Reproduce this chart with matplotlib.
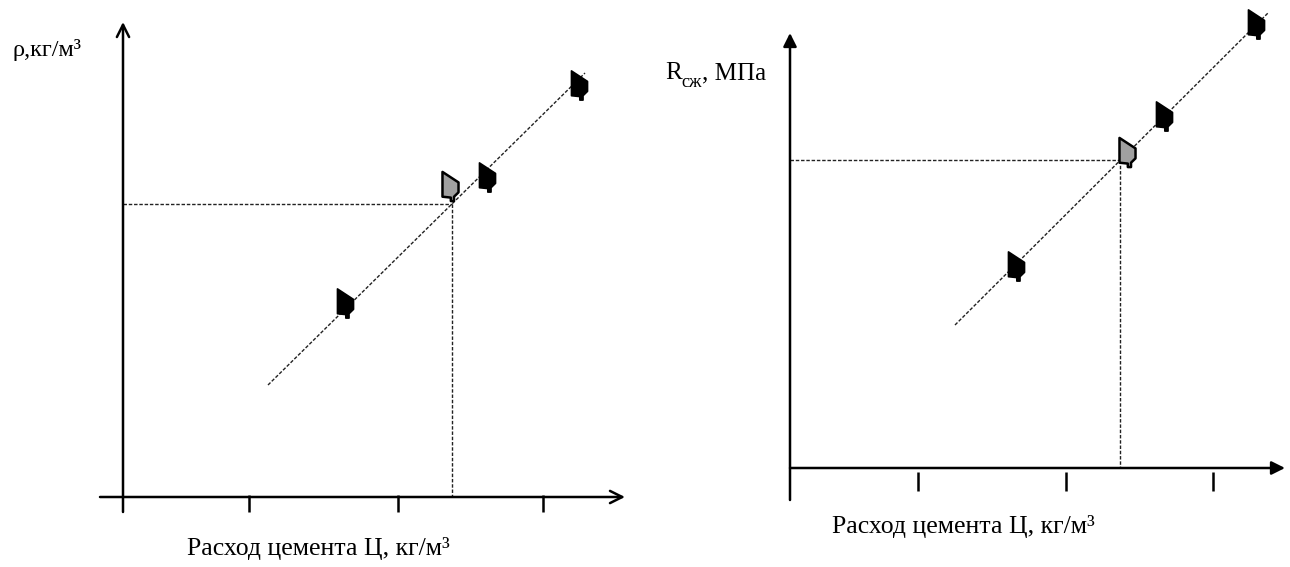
import numpy as np
import matplotlib.pyplot as plt
from matplotlib.path import Path

plt.rcParams['font.family'] = ['Liberation Serif', 'DejaVu Serif']

# left panel: density vs cement consumption (schematic units)
rho_ticks = [0.0, 1.26, 2.75, 4.20]
rho_cement = [2.22, 3.64, 4.56]
rho_value = [1.94, 3.20, 4.12]
rho_trial_cement = [3.27]
rho_trial_value = [3.11]
rho_trend_x = [1.45, 4.62]
rho_trend_y = [1.12, 4.24]
rho_ref = (3.29, 2.93)

# right panel: compressive strength vs cement consumption
r_ticks = [1.28, 2.76, 4.23]
r_cement = [2.26, 3.74, 4.66]
r_value = [2.02, 3.52, 4.44]
r_trial_cement = [3.37]
r_trial_value = [3.16]
r_trend_x = [1.65, 4.78]
r_trend_y = [1.43, 4.55]
r_ref = (3.30, 3.08)

x_label = 'Расход цемента Ц, кг/м³'

# flag-like point marker
flag_verts = np.array([
    (0.0, 1.0), (1.0, 0.64), (1.0, 0.30), (0.72, 0.15), (0.72, 0.0),
    (0.52, 0.0), (0.52, 0.12), (0.0, 0.15), (0.0, 1.0)])
flag_verts = (flag_verts - 0.5) * [0.55, 1.0]
flag = Path(flag_verts, closed=True)


def draw_points(ax, xs, ys, tx, ty):
    ax.plot(xs, ys, ls='none', marker=flag, ms=21, mfc='black', mec='black', mew=1.2)
    ax.plot(tx, ty, ls='none', marker=flag, ms=21, mfc='#a0a0a0', mec='black', mew=1.8)


def draw_trend(ax, tx, ty, ref, x0, y0):
    style = dict(color='#222222', lw=1.0, ls=(0, (2.5, 1.3)))
    ax.plot(tx, ty, **style)
    ax.plot([x0, ref[0]], [ref[1], ref[1]], **style)
    ax.plot([ref[0], ref[0]], [ref[1], y0], **style)


fig = plt.figure(figsize=(12.9, 5.67), dpi=100)

# left panel
ax1 = fig.add_axes([0, 0, 0.5, 1])
ax1.set_xlim(-1.23, 5.22)
ax1.set_ylim(-0.70, 4.97)
ax1.axis('off')
ax1.annotate('', xy=(5.02, 0), xytext=(-0.23, 0),
             arrowprops=dict(arrowstyle='->', lw=1.8, mutation_scale=22, shrinkA=0, shrinkB=0))
ax1.annotate('', xy=(0, 4.75), xytext=(0, -0.15),
             arrowprops=dict(arrowstyle='->', lw=1.8, mutation_scale=22, shrinkA=0, shrinkB=0))
ax1.vlines(rho_ticks[1:], -0.15, 0.02, color='black', lw=1.8)
draw_trend(ax1, rho_trend_x, rho_trend_y, rho_ref, 0, 0)
draw_points(ax1, rho_cement, rho_value, rho_trial_cement, rho_trial_value)
ax1.text(-1.11, 4.47, 'ρ,кг/м³', fontsize=17.5, ha='left', va='center')
ax1.text(1.95, -0.51, x_label, fontsize=18.5, ha='center', va='center')

# right panel
ax2 = fig.add_axes([0.5, 0, 0.5, 1])
ax2.set_xlim(-1.45, 5.00)
ax2.set_ylim(-0.99, 4.68)
ax2.axis('off')
ax2.annotate('', xy=(4.95, 0), xytext=(0, 0),
             arrowprops=dict(arrowstyle='-|>', lw=1.8, mutation_scale=20, color='black',
                             shrinkA=0, shrinkB=0))
ax2.annotate('', xy=(0, 4.35), xytext=(0, -0.32),
             arrowprops=dict(arrowstyle='-|>', lw=1.8, mutation_scale=20, color='black',
                             shrinkA=0, shrinkB=0))
ax2.vlines(r_ticks, -0.23, -0.04, color='black', lw=1.8)
draw_trend(ax2, r_trend_x, r_trend_y, r_ref, 0, 0)
draw_points(ax2, r_cement, r_value, r_trial_cement, r_trial_value)

r_txt = ax2.text(-1.25, 3.95, 'R', fontsize=18, ha='left', va='center')
sub = ax2.annotate('сж', xy=(1.0, 0.06), xycoords=r_txt, fontsize=13,
                   ha='left', va='center')
ax2.annotate(', МПа', xy=(1.0, 0.0), xycoords=(sub, r_txt), fontsize=18,
             ha='left', va='bottom')
ax2.text(1.73, -0.59, x_label, fontsize=18.5, ha='center', va='center')

fig.savefig('out.png', dpi=100)
